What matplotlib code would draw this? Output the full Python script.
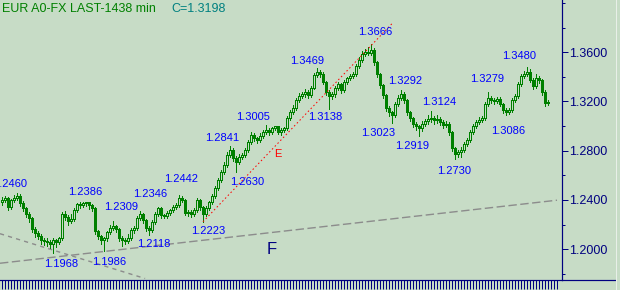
import numpy as np
import matplotlib
matplotlib.use("Agg")
import matplotlib.pyplot as plt
from matplotlib.patches import Rectangle
from matplotlib.lines import Line2D
from matplotlib.ticker import MultipleLocator, FormatStrFormatter, FixedLocator

# EUR/USD daily bars (one value per bar)
first_open = 1.2380
close = [
    1.2397, 1.2413, 1.2340, 1.2397, 1.2413, 1.2429, 1.2372, 1.2332, 1.2283, 1.2250,
    1.2161, 1.2128, 1.2104, 1.2071, 1.2063, 1.2055, 1.2039, 1.2071, 1.2055, 1.2087,
    1.2283, 1.2258, 1.2226, 1.2242, 1.2315, 1.2364, 1.2356, 1.2372, 1.2380, 1.2356,
    1.2332, 1.2144, 1.2104, 1.2071, 1.2087, 1.2136, 1.2169, 1.2185, 1.2161, 1.2087,
    1.2071, 1.2063, 1.2087, 1.2152, 1.2169, 1.2250, 1.2283, 1.2234, 1.2169, 1.2152,
    1.2218, 1.2283, 1.2332, 1.2275, 1.2266, 1.2291, 1.2315, 1.2340, 1.2356, 1.2413,
    1.2397, 1.2291, 1.2299, 1.2283, 1.2315, 1.2397, 1.2340, 1.2283, 1.2332, 1.2380,
    1.2429, 1.2494, 1.2559, 1.2624, 1.2681, 1.2763, 1.2803, 1.2738, 1.2706, 1.2746,
    1.2763, 1.2803, 1.2869, 1.2926, 1.2901, 1.2885, 1.2917, 1.2950, 1.2966, 1.2950,
    1.2982, 1.2999, 1.2950, 1.2966, 1.2982, 1.3064, 1.3113, 1.3145, 1.3210, 1.3243,
    1.3259, 1.3275, 1.3251, 1.3308, 1.3414, 1.3438, 1.3422, 1.3357, 1.3275, 1.3243,
    1.3259, 1.3308, 1.3340, 1.3292, 1.3357, 1.3389, 1.3406, 1.3422, 1.3487, 1.3536,
    1.3585, 1.3601, 1.3593, 1.3617, 1.3520, 1.3422, 1.3332, 1.3251, 1.3145, 1.3113,
    1.3088, 1.3178, 1.3227, 1.3259, 1.3210, 1.3113, 1.3064, 1.3015, 1.2999, 1.2982,
    1.3015, 1.3039, 1.3056, 1.3064, 1.3048, 1.3056, 1.3031, 1.3007, 1.3015, 1.2950,
    1.2820, 1.2771, 1.2787, 1.2803, 1.2852, 1.2885, 1.2950, 1.2999, 1.3031, 1.3048,
    1.3064, 1.3178, 1.3227, 1.3210, 1.3202, 1.3218, 1.3178, 1.3129, 1.3113, 1.3129,
    1.3210, 1.3243, 1.3340, 1.3406, 1.3422, 1.3438, 1.3373, 1.3324, 1.3389, 1.3373,
    1.3275, 1.3186, 1.3198,
]
high = [
    1.2420, 1.2432, 1.2425, 1.2410, 1.2440, 1.2460, 1.2445, 1.2390, 1.2345, 1.2300,
    1.2262, 1.2180, 1.2145, 1.2120, 1.2095, 1.2090, 1.2075, 1.2090, 1.2085, 1.2100,
    1.2300, 1.2310, 1.2275, 1.2290, 1.2335, 1.2378, 1.2380, 1.2386, 1.2385, 1.2384,
    1.2370, 1.2340, 1.2160, 1.2115, 1.2100, 1.2150, 1.2195, 1.2230, 1.2200, 1.2175,
    1.2105, 1.2090, 1.2120, 1.2175, 1.2185, 1.2270, 1.2309, 1.2295, 1.2245, 1.2185,
    1.2235, 1.2300, 1.2346, 1.2340, 1.2290, 1.2310, 1.2330, 1.2360, 1.2375, 1.2442,
    1.2430, 1.2405, 1.2320, 1.2315, 1.2335, 1.2415, 1.2405, 1.2350, 1.2350, 1.2395,
    1.2445, 1.2510, 1.2580, 1.2645, 1.2710, 1.2790, 1.2841, 1.2820, 1.2755, 1.2770,
    1.2785, 1.2825, 1.2890, 1.2950, 1.2940, 1.2915, 1.2940, 1.2970, 1.3005, 1.2985,
    1.2995, 1.3003, 1.3004, 1.2985, 1.2995, 1.3080, 1.3130, 1.3170, 1.3230, 1.3265,
    1.3280, 1.3300, 1.3290, 1.3325, 1.3430, 1.3469, 1.3455, 1.3440, 1.3365, 1.3290,
    1.3280, 1.3325, 1.3360, 1.3350, 1.3375, 1.3400, 1.3420, 1.3440, 1.3505, 1.3560,
    1.3610, 1.3625, 1.3640, 1.3666, 1.3635, 1.3530, 1.3435, 1.3345, 1.3260, 1.3160,
    1.3125, 1.3195, 1.3250, 1.3292, 1.3275, 1.3220, 1.3125, 1.3075, 1.3030, 1.3010,
    1.3040, 1.3060, 1.3090, 1.3124, 1.3085, 1.3090, 1.3075, 1.3050, 1.3040, 1.3030,
    1.2960, 1.2830, 1.2805, 1.2830, 1.2870, 1.2905, 1.2965, 1.3015, 1.3050, 1.3070,
    1.3080, 1.3195, 1.3279, 1.3245, 1.3230, 1.3240, 1.3235, 1.3190, 1.3145, 1.3150,
    1.3225, 1.3260, 1.3355, 1.3425, 1.3445, 1.3480, 1.3465, 1.3390, 1.3420, 1.3410,
    1.3385, 1.3290, 1.3215,
]
low = [
    1.2362, 1.2385, 1.2320, 1.2330, 1.2380, 1.2400, 1.2355, 1.2310, 1.2265, 1.2225,
    1.2140, 1.2100, 1.2085, 1.2040, 1.2035, 1.2030, 1.2010, 1.1968, 1.2020, 1.2040,
    1.2075, 1.2240, 1.2200, 1.2210, 1.2230, 1.2300, 1.2335, 1.2340, 1.2350, 1.2330,
    1.2310, 1.2125, 1.2080, 1.2040, 1.1986, 1.2070, 1.2125, 1.2155, 1.2140, 1.2070,
    1.2030, 1.2040, 1.2050, 1.2075, 1.2135, 1.2160, 1.2240, 1.2215, 1.2150, 1.2118,
    1.2140, 1.2205, 1.2270, 1.2255, 1.2250, 1.2255, 1.2280, 1.2300, 1.2325, 1.2345,
    1.2380, 1.2275, 1.2270, 1.2260, 1.2270, 1.2300, 1.2320, 1.2223, 1.2270, 1.2320,
    1.2365, 1.2415, 1.2480, 1.2545, 1.2610, 1.2665, 1.2750, 1.2720, 1.2630, 1.2690,
    1.2730, 1.2750, 1.2790, 1.2855, 1.2880, 1.2860, 1.2870, 1.2900, 1.2935, 1.2925,
    1.2935, 1.2970, 1.2935, 1.2930, 1.2950, 1.2970, 1.3050, 1.3100, 1.3130, 1.3195,
    1.3225, 1.3240, 1.3230, 1.3240, 1.3300, 1.3400, 1.3400, 1.3340, 1.3250, 1.3138,
    1.3220, 1.3240, 1.3290, 1.3270, 1.3280, 1.3340, 1.3375, 1.3390, 1.3410, 1.3475,
    1.3520, 1.3570, 1.3575, 1.3580, 1.3500, 1.3400, 1.3310, 1.3230, 1.3120, 1.3080,
    1.3023, 1.3070, 1.3160, 1.3210, 1.3190, 1.3090, 1.3040, 1.2990, 1.2970, 1.2919,
    1.2960, 1.3000, 1.3020, 1.3035, 1.3020, 1.3025, 1.3005, 1.2985, 1.2990, 1.2930,
    1.2800, 1.2730, 1.2745, 1.2750, 1.2790, 1.2840, 1.2870, 1.2935, 1.2985, 1.3015,
    1.3030, 1.3050, 1.3165, 1.3190, 1.3180, 1.3185, 1.3160, 1.3105, 1.3086, 1.3095,
    1.3115, 1.3195, 1.3230, 1.3325, 1.3390, 1.3410, 1.3355, 1.3300, 1.3310, 1.3350,
    1.3250, 1.3160, 1.3170,
]

# zigzag pivots: bar index and value
pivot_bar = [5, 27, 17, 34, 46, 49, 52, 59, 67, 78, 76, 88,
             105, 109, 123, 133, 130, 143, 139, 151, 162, 168, 175]
pivot_val = [1.2460, 1.2386, 1.1968, 1.1986, 1.2309, 1.2118, 1.2346, 1.2442,
             1.2223, 1.2630, 1.2841, 1.3005, 1.3469, 1.3138, 1.3666, 1.3292,
             1.3023, 1.3124, 1.2919, 1.2730, 1.3279, 1.3086, 1.3480]
# label offsets from the pivot, in pixels (dx, dy up)
pivot_off = [(-7, 9), (2, 10), (8, -11), (5, -11), (-19, 4), (5, -9), (-8, 13),
             (2, 16), (5, -9), (11, -10), (-8, 8), (-13, 8), (-10, 7), (-4, -8),
             (4, 12), (4, 9), (-14, -10), (8, 9), (-7, -10), (-1, -12), (-1, 13),
             (2, -16), (-8, 11)]

# trend lines: (bar, price) end points
line_f = ([-0.67, 185.0], [1.1886, 1.2398])
line_down = ([-0.67, 47.7], [1.2126, 1.1762])
line_e = ([67.0, 130.2], [1.2223, 1.3837])

price_ticks = [1.20, 1.24, 1.28, 1.32, 1.36]

BG = "#c7dcc6"
GREEN = "#008000"
NAVY = "#000080"
PX = 0.72  # one pixel in points at 100 dpi

plt.rcParams["font.family"] = ["Liberation Sans", "DejaVu Sans"]

fig = plt.figure(figsize=(6.2, 2.9), dpi=100, facecolor=BG)
ax = fig.add_axes([0, 10.5 / 290, 562 / 620, 279.5 / 290], facecolor=BG)

n = len(close)
opens = np.concatenate([[first_open], close[:-1]])
xs = np.arange(n)

ax.vlines(xs, low, high, color=GREEN, lw=PX, zorder=2, antialiased=False)
w = 0.67
for i in range(n):
    o, c = opens[i], close[i]
    lo, hi = min(o, c), max(o, c)
    face = GREEN if c < o else BG
    ax.add_patch(Rectangle((i - w / 2, lo), w, max(hi - lo, 0.0002),
                           facecolor=face, edgecolor=GREEN, lw=PX,
                           zorder=3, antialiased=False))

ax.plot(*line_f, color="#8c8c8c", lw=PX * 1.4, dashes=(6, 2.5), zorder=1)
ax.plot(*line_down, color="#8c8c8c", lw=PX * 1.4, dashes=(3, 3), zorder=1)
ax.plot(*line_e, color="#ff0000", lw=PX, dashes=(1.5, 2.5), zorder=4)

for b, v, (dx, dy) in zip(pivot_bar, pivot_val, pivot_off):
    ax.annotate(f"{v:.4f}", (b, v), xytext=(dx, dy), textcoords="offset pixels",
                ha="center", va="center", color="#0000ff", fontsize=8,
                annotation_clip=False, zorder=5)

ax.text(278 / 562, 1 - 154 / 279.5, "E", transform=ax.transAxes, color="#ff0000",
        fontsize=8, ha="center", va="center")
ax.text(272 / 562, 1 - 249 / 279.5, "F", transform=ax.transAxes, color=NAVY,
        fontsize=12, ha="center", va="center")

ax.set_xlim(-0.667, 186.67)
ax.set_ylim(1.1754, 1.4024)

ax.yaxis.tick_right()
ax.yaxis.set_major_locator(FixedLocator(price_ticks))
ax.yaxis.set_minor_locator(MultipleLocator(0.02))
ax.yaxis.set_major_formatter(FormatStrFormatter("%.4f"))
ax.tick_params(axis="y", which="major", length=6 * PX, width=PX, colors=NAVY,
               labelsize=9, pad=1)
ax.tick_params(axis="y", which="minor", length=3 * PX, width=PX, colors=NAVY)

ax.xaxis.set_major_locator(FixedLocator(np.arange(0, 186)))
ax.tick_params(axis="x", which="major", length=9 * PX, width=PX, colors=NAVY,
               labelbottom=False)

for s in ("top", "left"):
    ax.spines[s].set_visible(False)
for s in ("right", "bottom"):
    ax.spines[s].set_color(NAVY)
    ax.spines[s].set_linewidth(PX * 1.2)

# bottom rule running under the price scale, and window edge
fig.add_artist(Line2D([562 / 620, 615 / 620], [10.5 / 290, 10.5 / 290],
                      color=NAVY, lw=PX * 1.2))
fig.add_artist(Line2D([615.5 / 620, 615.5 / 620], [0, 1], color="#e8efe8", lw=PX))

fig.text(2 / 620, 1 - 9 / 290, "EUR A0-FX LAST-1438 min", color=GREEN,
         fontsize=9, ha="left", va="center")
fig.text(171 / 620, 1 - 9 / 290, "C=1.3198", color="#008080",
         fontsize=9, ha="left", va="center")

fig.savefig("out.png", dpi=100, facecolor=BG)
